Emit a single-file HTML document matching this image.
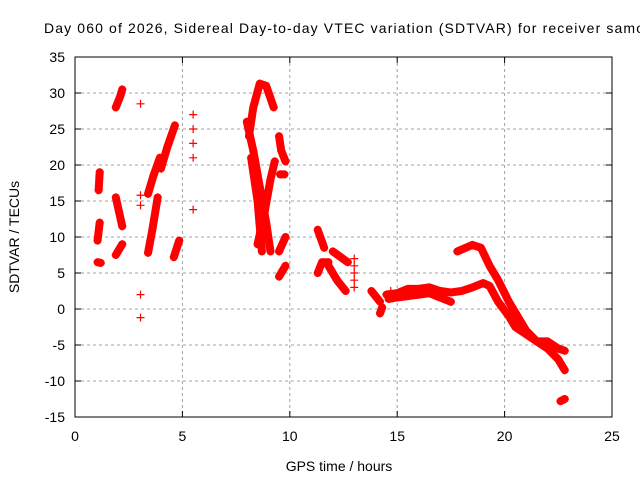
<!DOCTYPE html>
<html><head><meta charset="utf-8"><style>
body{margin:0;background:#fff}
svg{display:block;font-family:"Liberation Sans",sans-serif}
</style></head><body>
<svg width="640" height="480">
<rect width="640" height="480" fill="#fff"/>
<text x="44" y="33" font-size="14" textLength="600" lengthAdjust="spacing">Day 060 of 2026, Sidereal Day-to-day VTEC variation (SDTVAR) for receiver samo</text>
<g id="grid"></g>
<g id="axes"></g>
<g id="marks"></g>
<text x="339" y="471" font-size="14" text-anchor="middle">GPS time / hours</text>
<text transform="translate(19,237) rotate(-90)" font-size="14" text-anchor="middle">SDTVAR / TECUs</text>
</svg>
<script>
const xTicks=[0,5,10,15,20,25];
const yTicks=[-15,-10,-5,0,5,10,15,20,25,30,35];
const tracks=[
[[1.1,16.5],[1.15,19]],
[[1.05,9.5],[1.15,12]],
[[1.05,6.5],[1.2,6.4]],
[[1.9,28],[2.1,29.5],[2.2,30.5]],
[[1.9,15.5],[2.2,11.5]],
[[1.9,7.5],[2.2,9]],
[[3.4,7.8],[3.6,11],[3.85,15.5]],
[[3.4,16],[3.65,18.5],[3.95,21]],
[[4.0,19.5],[4.3,22.5],[4.65,25.5]],
[[4.6,7.2],[4.85,9.5]],
[[8.0,26],[8.3,22],[8.6,17],[8.9,12],[9.1,8]],
[[8.1,24],[8.3,28],[8.6,31.3],[8.9,31],[9.25,28]],
[[8.2,21],[8.5,15],[8.7,8]],
[[8.5,9],[8.8,13],[9.1,18],[9.3,20.5]],
[[9.5,24],[9.6,22],[9.8,20.5]],
[[9.55,18.7],[9.75,18.7]],
[[9.5,8],[9.8,10]],
[[9.5,4.5],[9.8,6]],
[[11.3,11],[11.6,8.5]],
[[11.3,5],[11.5,6.5],[11.8,6.5]],
[[12.0,8],[12.7,6.5]],
[[11.8,6],[12.2,4],[12.6,2.5]],
[[13.8,2.5],[14.2,1]],
[[14.3,0.2],[14.2,-0.6]],
[[14.5,2],[15,2.2],[15.5,2.8],[16,2.8],[16.5,3],[17,2.5],[17.5,2.3],[18,2.5],[18.5,3],[19,3.6],[19.3,3.2],[19.7,1],[20.2,-1],[20.5,-2.5],[21,-3.5],[21.5,-4.5],[22,-5.5],[22.5,-7],[22.8,-8.5]],
[[14.6,1.4],[15,1.6],[16,2],[16.5,2.2],[17,1.6],[17.5,1]],
[[17.8,8],[18.5,8.9],[18.9,8.5],[19.3,6],[19.7,4],[20.2,1],[20.6,-1],[21,-3],[21.5,-4.5],[22,-4.5],[22.5,-5.5],[22.8,-5.8]],
[[22.6,-12.8],[22.8,-12.5]]
];
const singles=[[3.05,28.5],[3.05,15.8],[3.05,14.4],[3.05,2],[3.05,-1.2],[5.5,27],[5.5,25],[5.5,23],[5.5,21],[5.5,13.8],[13,7],[13,6],[13,5],[13,4],[13,3],[14.7,2.5],[14.7,1.5]];
const X0=75,X1=612,Y0=417,Y1=57;
const sx=v=>X0+(v-0)/(25-0)*(X1-X0);
const sy=v=>Y0-(v+15)/(35+15)*(Y0-Y1);
const NS='http://www.w3.org/2000/svg';
function mk(t,a,p){const e=document.createElementNS(NS,t);for(const k in a)e.setAttribute(k,a[k]);p.appendChild(e);return e;}
const grid=document.getElementById('grid'),axes=document.getElementById('axes'),marks=document.getElementById('marks');
xTicks.forEach(v=>{const x=sx(v);
 if(v>0&&v<25){const l=mk('line',{x1:x,y1:Y1,x2:x,y2:Y0,stroke:'#a0a0a0','stroke-dasharray':'3,3'},grid);}
 mk('line',{x1:x,y1:Y0,x2:x,y2:Y0-6,stroke:'#000'},axes);mk('line',{x1:x,y1:Y1,x2:x,y2:Y1+6,stroke:'#000'},axes);
 const t=mk('text',{x:x,y:Y0+24,'font-size':14,'text-anchor':'middle'},axes);t.textContent=v;
 });
yTicks.forEach(v=>{const y=sy(v);
 if(v>-15&&v<35){const l=mk('line',{x1:X0,y1:y,x2:X1,y2:y,stroke:'#a0a0a0','stroke-dasharray':'3,3'},grid);}
 mk('line',{x1:X0,y1:y,x2:X0+6,y2:y,stroke:'#000'},axes);mk('line',{x1:X1,y1:y,x2:X1-6,y2:y,stroke:'#000'},axes);
 const t=mk('text',{x:X0-10,y:y+5,'font-size':14,'text-anchor':'end'},axes);t.textContent=v;
 });
mk('rect',{x:X0,y:Y1,width:X1-X0,height:Y0-Y1,fill:'none',stroke:'#000'},axes);
function plus(x,y){const p=mk('path',{d:`M${x-4} ${y}h8M${x} ${y-4}v8`,stroke:'#f00','stroke-width':1.2,fill:'none'},marks);
 }
tracks.forEach(tr=>{
 const pl=mk('polyline',{points:tr.map(p=>sx(p[0])+','+sy(p[1])).join(' '),fill:'none',stroke:'#f00','stroke-width':8,'stroke-linejoin':'round','stroke-linecap':'round'},marks);
 
 
 tr.forEach(p=>plus(sx(p[0]),sy(p[1])));
});
singles.forEach(p=>plus(sx(p[0]),sy(p[1])));
</script>
</body></html>
